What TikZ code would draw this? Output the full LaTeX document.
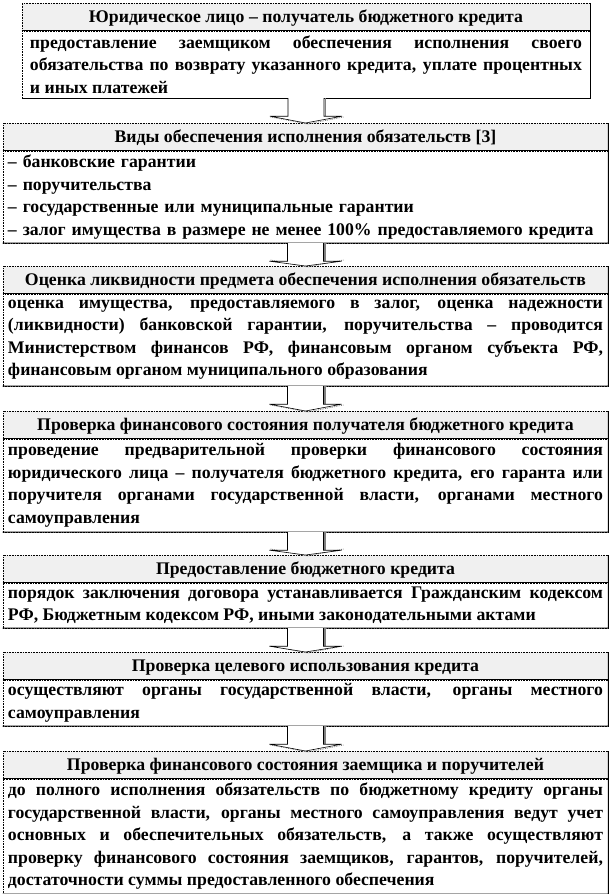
\documentclass[tikz,border=0pt]{standalone}
\usepackage{fontspec}
\setmainfont{Liberation Serif}
\usetikzlibrary{positioning,calc}

\begin{document}
\begin{tikzpicture}[x=1bp, y=-1bp,
    font=\fontsize{17.8}{22.6}\selectfont\bfseries,
    headbox/.style={draw, densely dotted, line width=0.6bp, fill=gray!12,
      anchor=north, inner sep=0pt, minimum height=27bp, text depth=0.25ex},
    bodybox/.style={draw, densely dotted, line width=0.6bp, anchor=north,
      inner xsep=5bp, inner ysep=0pt, align=justify},
    frameline/.style={line width=1bp},
    blockarrow/.style={draw, fill=white, line width=0.6bp},
    arrowshadow/.style={draw=gray, densely dotted, line width=0.8bp}]
    \useasboundingbox (0,0) rectangle (612,894);

    \node[headbox, minimum width=568bp] (head1) at (306,3)
        {Юридическое лицо – получатель бюджетного кредита};
    \node[bodybox, text width=552bp, minimum height=67bp, inner xsep=8bp,
        below=0pt of head1] (body1)
        {предоставление заемщиком обеспечения исполнения своего\linebreak
        обязательства по возврату указанного кредита, уплате процентных\linebreak
        и иных платежей};

    \node[headbox, minimum width=605bp] (head2) at (305.5,123)
        {Виды обеспечения исполнения обязательств [3]};
    \node[bodybox, text width=595bp, minimum height=92bp, align=left,
        below=0pt of head2] (body2)
        {– банковские гарантии\\
        – поручительства\\
        – государственные или муниципальные гарантии\\
        – залог имущества в размере не менее 100\% предоставляемого кредита};

    \node[headbox, minimum width=605bp] (head3) at (305.5,266)
        {Оценка ликвидности предмета обеспечения исполнения обязательств};
    \node[bodybox, text width=595bp, minimum height=92bp,
        below=0pt of head3] (body3)
        {оценка имущества, предоставляемого в залог, оценка надежности\linebreak
        (ликвидности) банковской гарантии, поручительства – проводится\linebreak
        Министерством финансов РФ, финансовым органом субъекта РФ,\linebreak
        финансовым органом муниципального образования};

    \node[headbox, minimum width=605bp] (head4) at (305.5,411)
        {Проверка финансового состояния получателя бюджетного кредита};
    \node[bodybox, text width=595bp, minimum height=93bp,
        below=0pt of head4] (body4)
        {проведение предварительной проверки финансового состояния\linebreak
        юридического лица – получателя бюджетного кредита, его гаранта или\linebreak
        поручителя органами государственной власти, органами местного\linebreak
        самоуправления};

    \node[headbox, minimum width=605bp] (head5) at (305.5,555)
        {Предоставление бюджетного кредита};
    \node[bodybox, text width=595bp, minimum height=45bp,
        below=0pt of head5] (body5)
        {порядок заключения договора устанавливается Гражданским кодексом\linebreak
        РФ, Бюджетным кодексом РФ, иными законодательными актами};

    \node[headbox, minimum width=605bp] (head6) at (305.5,652)
        {Проверка целевого использования кредита};
    \node[bodybox, text width=595bp, minimum height=46bp,
        below=0pt of head6] (body6)
        {осуществляют органы государственной власти, органы местного\linebreak
        самоуправления};

    \node[headbox, minimum width=605bp] (head7) at (305.5,751)
        {Проверка финансового состояния заемщика и поручителей};
    \node[bodybox, text width=595bp, minimum height=115bp,
        below=0pt of head7] (body7)
        {до полного исполнения обязательств по бюджетному кредиту органы\linebreak
        государственной власти, органы местного самоуправления ведут учет\linebreak
        основных и обеспечительных обязательств, а также осуществляют\linebreak
        проверку финансового состояния заемщиков, гарантов, поручителей,\linebreak
        достаточности суммы предоставленного обеспечения};

    % solid edges on the right and at the bottom, line under the header
    \foreach \h/\b in {head1/body1,head2/body2,head3/body3,head4/body4,
        head5/body5,head6/body6,head7/body7}{
        \draw[frameline] (\h.north east) -- (\b.south east) -- (\b.south west);
        \draw[line width=0.6bp] (\h.south west) -- (\h.south east);
    }

    % block arrows between the boxes
    \foreach \a/\b in {body1/head2,body2/head3,body3/head4,body4/head5,
        body5/head6,body6/head7}{
        \draw[arrowshadow] ($(\b.north)+(-35,-6)$) -- ($(\b.north)+(2,1)$)
            -- ($(\b.north)+(38,-6)$);
        \draw[gray, line width=1.2bp] ($(\a.south)+(19.5,0)$)
            -- ($(\a.south)+(19.5,18)$);
        \draw[blockarrow] ($(\a.south)+(-18,0)$) -- ($(\a.south)+(-18,18)$)
            -- ($(\a.south)+(-36,18)$) -- (\b.north) -- ($(\a.south)+(36,18)$)
            -- ($(\a.south)+(18,18)$) -- ($(\a.south)+(18,0)$);
    }
\end{tikzpicture}
\end{document}
